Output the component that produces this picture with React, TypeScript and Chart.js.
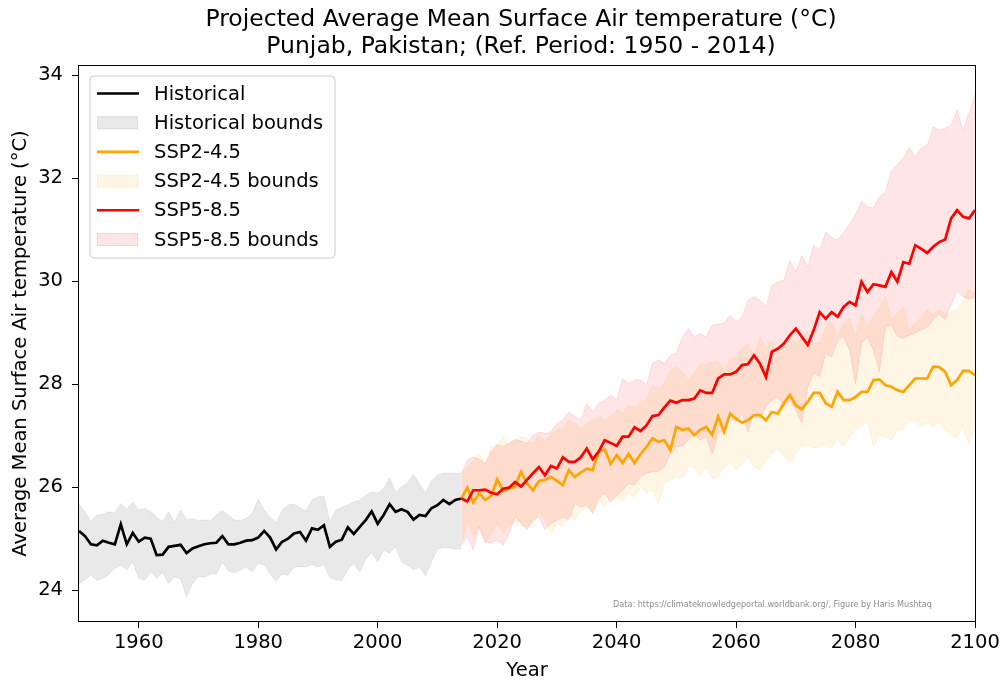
import React, { useEffect, useRef } from 'react';
import { Chart, registerables } from 'chart.js';

Chart.register(...registerables);

const FONT = '"DejaVu Sans", "Liberation Sans", sans-serif';

const titleLines = [
  'Projected Average Mean Surface Air temperature (°C)',
  'Punjab, Pakistan; (Ref. Period: 1950 - 2014)',
];
const xAxisTitle = 'Year';
const yAxisTitle = 'Average Mean Surface Air temperature (°C)';
const creditText = 'Data: https://climateknowledgeportal.worldbank.org/, Figure by Haris Mushtaq';

const legendLabels = [
  'Historical',
  'Historical bounds',
  'SSP2-4.5',
  'SSP2-4.5 bounds',
  'SSP5-8.5',
  'SSP5-8.5 bounds',
];

const xTicks = [1960, 1980, 2000, 2020, 2040, 2060, 2080, 2100];
const yTicks = [24, 26, 28, 30, 32, 34];

const histStartYear = 1950;
const projStartYear = 2014;

// Historical 1950-2014
const histMean = [
  25.15, 25.05, 24.89, 24.87, 24.96, 24.92, 24.89, 25.28, 24.89, 25.11,
  24.94, 25.02, 25.0, 24.68, 24.69, 24.84, 24.86, 24.88, 24.72, 24.81,
  24.85, 24.89, 24.91, 24.92, 25.05, 24.89, 24.89, 24.92, 24.96, 24.97,
  25.02, 25.15, 25.02, 24.79, 24.94, 25.0, 25.1, 25.13, 24.96, 25.2,
  25.17, 25.26, 24.84, 24.94, 24.98, 25.22, 25.09, 25.23, 25.36, 25.53,
  25.29, 25.46, 25.67, 25.52, 25.57, 25.52, 25.37, 25.46, 25.44, 25.59,
  25.65, 25.75, 25.67, 25.75, 25.78,
];
const histUpper = [
  25.68, 25.52, 25.33, 25.46, 25.47, 25.52, 25.49, 25.68, 25.57, 25.71,
  25.55, 25.59, 25.52, 25.42, 25.33, 25.52, 25.31, 25.55, 25.36, 25.39,
  25.35, 25.36, 25.35, 25.46, 25.55, 25.46, 25.36, 25.35, 25.39, 25.49,
  25.76, 25.55, 25.42, 25.31, 25.55, 25.65, 25.67, 25.6, 25.53, 25.75,
  25.81, 25.83, 25.33, 25.55, 25.61, 25.65, 25.71, 25.75, 25.84, 25.91,
  25.88, 25.97, 26.18, 25.89, 26.01, 26.08, 26.25, 26.06, 25.88, 26.12,
  26.23, 26.27, 26.27, 26.27, 26.27,
];
const histLower = [
  24.13, 24.2, 24.29, 24.19, 24.23, 24.31, 24.42, 24.49, 24.39, 24.55,
  24.23, 24.19, 24.36, 24.23, 24.34, 24.13, 24.26, 24.22, 23.87, 24.13,
  24.27, 24.25, 24.31, 24.32, 24.54, 24.37, 24.34, 24.39, 24.45, 24.36,
  24.52, 24.49, 24.32, 24.17, 24.31, 24.29, 24.45, 24.46, 24.45, 24.5,
  24.45, 24.5, 24.25, 24.2, 24.18, 24.4, 24.52, 24.35, 24.6, 24.73,
  24.55, 24.78, 24.72, 24.85, 24.55, 24.48, 24.4, 24.45, 24.28, 24.55,
  24.8, 24.83, 24.82, 24.8, 24.8,
];

// Projections 2014-2100
const ssp245Mean = [
  25.78,
  25.99, 25.7, 25.89, 25.75, 25.83, 26.15, 25.93, 25.97, 26.01, 26.3,
  26.07, 25.94, 26.12, 26.14, 26.2, 26.12, 26.04, 26.33, 26.2, 26.28,
  26.36, 26.33, 26.69, 26.73, 26.45, 26.62, 26.47, 26.65, 26.47, 26.64,
  26.78, 26.95, 26.88, 26.91, 26.72, 27.17, 27.11, 27.14, 27.01, 27.11,
  27.17, 27.01, 27.37, 27.07, 27.43, 27.33, 27.25, 27.3, 27.4, 27.4,
  27.3, 27.46, 27.43, 27.63, 27.79, 27.59, 27.51, 27.66, 27.83, 27.83,
  27.63, 27.56, 27.85, 27.69, 27.69, 27.75, 27.85, 27.85, 28.08, 28.09,
  27.98, 27.95, 27.88, 27.85, 27.98, 28.11, 28.11, 28.11, 28.34, 28.33,
  28.24, 27.98, 28.08, 28.26, 28.26, 28.17,
];
const ssp245Upper = [
  26.27,
  26.39, 26.52, 26.65, 26.46, 26.79, 26.82, 26.98, 26.85, 26.91, 26.98,
  26.95, 26.85, 27.01, 26.88, 27.04, 27.11, 27.14, 27.3, 27.24, 27.14,
  27.24, 27.3, 27.37, 27.3, 27.37, 27.5, 27.43, 27.59, 27.55, 27.66,
  27.69, 27.98, 27.91, 28.01, 28.27, 28.34, 28.24, 28.08, 28.21, 28.4,
  28.37, 28.43, 28.47, 28.27, 28.5, 28.53, 28.7, 28.79, 28.53, 28.92,
  28.72, 28.85, 28.72, 28.79, 28.92, 28.79, 28.92, 29.02, 28.79, 28.79,
  29.11, 29.21, 28.92, 29.18, 29.28, 28.92, 29.37, 29.11, 29.31, 29.5,
  29.7, 29.24, 29.37, 29.5, 29.05, 29.18, 29.31, 29.44, 29.37, 29.44,
  29.37, 29.4, 29.45, 29.6, 29.85, 29.75,
];
const ssp245Lower = [
  24.87,
  25.36, 25.04, 25.23, 24.91, 25.1, 25.3, 25.1, 25.23, 25.36, 25.26,
  25.23, 25.3, 25.49, 25.36, 25.1, 25.3, 25.23, 25.46, 25.36, 25.55,
  25.62, 25.52, 25.72, 25.65, 25.75, 25.81, 25.72, 25.88, 25.81, 26.01,
  25.88, 25.94, 25.68, 26.07, 26.14, 26.2, 26.17, 26.39, 26.39, 26.2,
  26.39, 26.17, 26.2, 26.39, 26.46, 26.33, 26.46, 26.59, 26.39, 26.33,
  26.52, 26.65, 26.75, 26.59, 26.46, 26.65, 26.78, 26.82, 26.75, 26.78,
  26.85, 26.75, 26.95, 26.78, 26.98, 27.14, 27.17, 27.3, 26.78, 27.01,
  26.98, 26.91, 27.11, 27.11, 27.3, 27.3, 27.17, 27.24, 27.17, 27.27,
  27.11, 27.01, 26.98, 27.17, 26.82, 27.17,
];
const ssp585Mean = [
  25.78,
  25.72, 25.94, 25.94, 25.95, 25.89, 25.86, 25.97, 25.99, 26.1, 26.01,
  26.14, 26.27, 26.39, 26.23, 26.41, 26.36, 26.58, 26.49, 26.49, 26.58,
  26.75, 26.54, 26.69, 26.91, 26.86, 26.8, 26.98, 26.98, 27.16, 27.09,
  27.2, 27.38, 27.4, 27.55, 27.68, 27.64, 27.69, 27.69, 27.72, 27.88,
  27.83, 27.83, 28.11, 28.19, 28.19, 28.24, 28.37, 28.39, 28.56, 28.4,
  28.14, 28.63, 28.69, 28.79, 28.95, 29.08, 28.92, 28.76, 29.05, 29.4,
  29.27, 29.4, 29.31, 29.5, 29.6, 29.53, 29.99, 29.79, 29.94, 29.92,
  29.89, 30.18, 29.99, 30.37, 30.34, 30.7, 30.63, 30.55, 30.67, 30.76,
  30.81, 31.22, 31.38, 31.25, 31.22, 31.38,
];
const ssp585Upper = [
  26.27,
  26.52, 26.59, 26.54, 26.45, 26.69, 26.82, 26.79, 26.85, 26.93, 26.89,
  26.85, 27.01, 27.07, 27.04, 27.07, 27.24, 27.3, 27.46, 27.37, 27.3,
  27.63, 27.46, 27.63, 27.69, 27.79, 27.69, 28.11, 28.01, 28.08, 28.09,
  27.98, 28.4, 28.47, 28.4, 28.56, 28.6, 28.92, 29.08, 28.92, 28.98,
  28.92, 29.15, 29.17, 29.19, 29.34, 29.21, 29.31, 29.63, 29.7, 29.63,
  29.5, 29.92, 29.99, 30.02, 30.41, 30.18, 30.5, 30.28, 30.7, 30.6,
  30.95, 30.85, 30.8, 30.95, 31.1, 31.3, 31.55, 31.45, 31.42, 31.64,
  31.73, 32.15, 32.25, 32.4, 32.6, 32.41, 32.58, 32.64, 33.0, 32.93,
  32.97, 33.03, 33.32, 32.93, 33.26, 33.64,
];
const ssp585Lower = [
  24.87,
  25.04, 24.78, 25.23, 24.94, 24.91, 24.97, 24.87, 25.1, 25.42, 25.3,
  25.17, 25.36, 25.42, 25.17, 25.3, 25.36, 25.42, 25.36, 25.68, 25.62,
  25.65, 25.49, 25.78, 25.88, 25.71, 25.84, 25.94, 26.07, 26.04, 26.2,
  26.27, 26.3, 26.3, 26.39, 26.64, 26.78, 26.8, 26.91, 27.04, 26.91,
  26.98, 26.65, 27.04, 27.11, 27.37, 27.27, 27.43, 27.07, 27.5, 27.33,
  27.56, 27.69, 27.75, 27.56, 27.69, 27.5, 27.24, 27.95, 28.21, 28.15,
  28.6, 28.53, 28.85, 28.92, 28.66, 28.01, 28.79, 28.92, 28.66, 28.24,
  29.11, 29.15, 28.92, 28.89, 28.95, 29.0, 29.05, 29.11, 29.24, 29.37,
  29.25, 29.55, 29.8, 29.7, 29.65, 29.7,
];

const toPoints = (start: number, values: number[]) =>
  values.map((v, i) => ({ x: start + i, y: v }));

const HIST_LINE = '#000000';
const HIST_FILL = 'rgba(211,211,211,0.5)';
const SSP2_LINE = '#FFA500';
const SSP2_FILL = 'rgba(255,165,0,0.1)';
const SSP5_LINE = '#FF0000';
const SSP5_FILL = 'rgba(255,0,0,0.1)';

const decorPlugin = {
  id: 'decor',
  afterDatasetsDraw(chart: any) {
    const { ctx, chartArea: a } = chart;
    ctx.save();
    ctx.strokeStyle = '#000';
    ctx.lineWidth = 1;
    ctx.strokeRect(Math.round(a.left) - 0.5, Math.round(a.top) - 0.5, Math.round(a.right - a.left) + 1, Math.round(a.bottom - a.top) + 1);
    ctx.restore();
  },
  afterDraw(chart: any) {
    const { ctx } = chart;
    ctx.save();
    // Title
    ctx.fillStyle = '#000';
    ctx.textAlign = 'center';
    ctx.textBaseline = 'middle';
    ctx.font = `23.5px ${FONT}`;
    ctx.fillText(titleLines[0], 521, 20);
    ctx.fillText(titleLines[1], 521, 47);

    // Legend
    const bx = 90, by = 76, bw = 245, bh = 182, r = 4;
    ctx.beginPath();
    ctx.moveTo(bx + r, by);
    ctx.arcTo(bx + bw, by, bx + bw, by + bh, r);
    ctx.arcTo(bx + bw, by + bh, bx, by + bh, r);
    ctx.arcTo(bx, by + bh, bx, by, r);
    ctx.arcTo(bx, by, bx + bw, by, r);
    ctx.closePath();
    ctx.fillStyle = 'rgba(255,255,255,0.8)';
    ctx.fill();
    ctx.strokeStyle = '#cccccc';
    ctx.lineWidth = 1;
    ctx.stroke();

    const entries = [
      { kind: 'line', color: HIST_LINE },
      { kind: 'patch', color: HIST_FILL },
      { kind: 'line', color: SSP2_LINE },
      { kind: 'patch', color: SSP2_FILL },
      { kind: 'line', color: SSP5_LINE },
      { kind: 'patch', color: SSP5_FILL },
    ];
    ctx.font = `19.5px ${FONT}`;
    ctx.textAlign = 'left';
    ctx.textBaseline = 'middle';
    entries.forEach((e, i) => {
      const cy = 93.5 + i * 29.2;
      if (e.kind === 'line') {
        ctx.strokeStyle = e.color;
        ctx.lineWidth = 2.6;
        ctx.beginPath();
        ctx.moveTo(97, cy);
        ctx.lineTo(139, cy);
        ctx.stroke();
      } else {
        ctx.fillStyle = e.color;
        ctx.fillRect(97, cy - 6.5, 41, 13);
        ctx.strokeStyle = e.color;
        ctx.lineWidth = 1;
        ctx.strokeRect(97.5, cy - 6, 40, 12);
      }
      ctx.fillStyle = '#000';
      ctx.fillText(legendLabels[i], 154, cy + 1);
    });

    // Credit
    ctx.fillStyle = '#8c8c8c';
    ctx.textAlign = 'left';
    ctx.textBaseline = 'middle';
    ctx.font = `7.5px ${FONT}`;
    const w = ctx.measureText(creditText).width;
    const size = (7.5 * 319) / w;
    ctx.font = `${size.toFixed(2)}px ${FONT}`;
    ctx.fillText(creditText, 613, 605);
    ctx.restore();
  },
};

export default function App() {
  const canvasRef = useRef<HTMLCanvasElement | null>(null);

  useEffect(() => {
    const canvas = canvasRef.current;
    if (!canvas) return;

    const tickFont = { family: FONT, size: 19.5 };

    const lineDs = (label: string, start: number, data: number[], color: string, width: number) => ({
      label,
      data: toPoints(start, data),
      borderColor: color,
      backgroundColor: color,
      borderWidth: width,
      pointRadius: 0,
      fill: false,
      tension: 0,
    });
    const boundDs = (label: string, start: number, data: number[], color: string, fill: any) => ({
      label,
      data: toPoints(start, data),
      borderColor: color,
      backgroundColor: color,
      borderWidth: 1,
      pointRadius: 0,
      fill,
      tension: 0,
    });

    const chart = new Chart(canvas, {
      type: 'line',
      data: {
        datasets: [
          lineDs('SSP5-8.5', projStartYear, ssp585Mean, SSP5_LINE, 2.7),
          lineDs('SSP2-4.5', projStartYear, ssp245Mean, SSP2_LINE, 2.7),
          lineDs('Historical', histStartYear, histMean, HIST_LINE, 2.7),
          boundDs('SSP5-8.5 bounds', projStartYear, ssp585Upper, SSP5_FILL, '+1'),
          boundDs('SSP5-8.5 lower', projStartYear, ssp585Lower, SSP5_FILL, false),
          boundDs('SSP2-4.5 bounds', projStartYear, ssp245Upper, SSP2_FILL, '+1'),
          boundDs('SSP2-4.5 lower', projStartYear, ssp245Lower, SSP2_FILL, false),
          boundDs('Historical bounds', histStartYear, histUpper, HIST_FILL, '+1'),
          boundDs('Historical lower', histStartYear, histLower, HIST_FILL, false),
        ] as any,
      },
      options: {
        animation: false,
        responsive: false,
        maintainAspectRatio: false,
        devicePixelRatio: 1,
        layout: { padding: { left: 0, top: 66, right: 28, bottom: 0 } },
        plugins: {
          legend: { display: false },
          tooltip: { enabled: false },
          title: { display: false },
          filler: { drawTime: 'beforeDatasetsDraw' },
        } as any,
        scales: {
          x: {
            type: 'linear',
            min: 1950,
            max: 2100,
            afterBuildTicks: (s: any) => {
              s.ticks = xTicks.map((v) => ({ value: v }));
            },
            afterFit: (s: any) => {
              s.height = 63;
            },
            ticks: {
              font: tickFont,
              color: '#000',
              padding: 3,
              maxRotation: 0,
              autoSkip: false,
              callback: (v: any) => String(v),
            },
            grid: { drawOnChartArea: false, drawTicks: true, tickLength: 7, color: '#000', lineWidth: 1 },
            border: { display: false },
            title: {
              display: true,
              text: xAxisTitle,
              font: { family: FONT, size: 19.5 },
              color: '#000',
              padding: { top: 0, bottom: 1.5 },
            },
          },
          y: {
            type: 'linear',
            min: 23.4,
            max: 34.18,
            afterBuildTicks: (s: any) => {
              s.ticks = yTicks.map((v) => ({ value: v }));
            },
            afterFit: (s: any) => {
              s.width = 79;
            },
            ticks: {
              font: tickFont,
              color: '#000',
              padding: 9,
              autoSkip: false,
              callback: (v: any) => String(v),
            },
            grid: { drawOnChartArea: false, drawTicks: true, tickLength: 7, color: '#000', lineWidth: 1 },
            border: { display: false },
            title: {
              display: true,
              text: yAxisTitle,
              font: { family: FONT, size: 19.5 },
              color: '#000',
              padding: { top: 9, bottom: 0 },
            },
          },
        },
      } as any,
      plugins: [decorPlugin],
    });

    return () => chart.destroy();
  }, []);

  return (
    <div style={{ position: 'fixed', left: 0, top: 0, width: 1003, height: 684, background: '#fff' }}>
      <canvas ref={canvasRef} width={1003} height={684} style={{ display: 'block', width: 1003, height: 684 }} />
    </div>
  );
}
